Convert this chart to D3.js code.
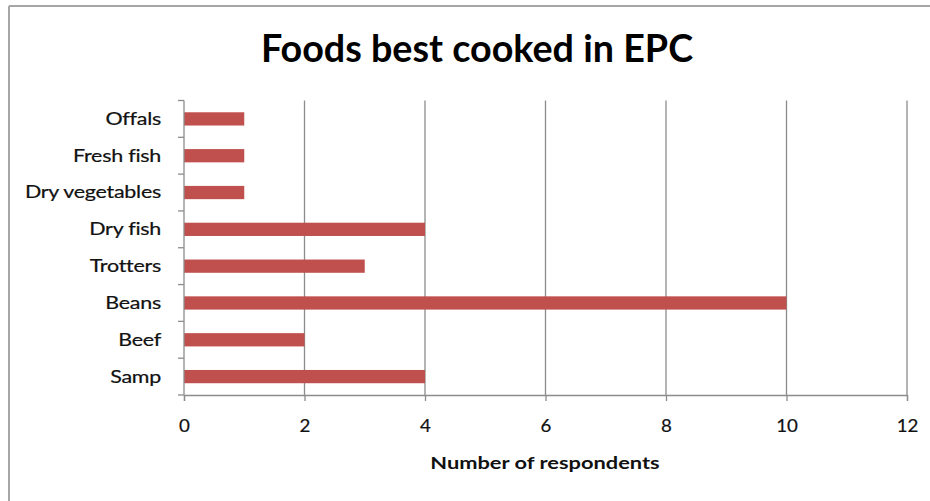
<!DOCTYPE html>
<html>
<head>
<meta charset="utf-8">
<script src="https://cdn.jsdelivr.net/npm/d3@7"></script>
<style>
  html, body { margin: 0; padding: 0; background: #fff; }
  svg { display: block; font-family: Lato, "Open Sans", sans-serif; }
</style>
</head>
<body>
<svg id="chart" width="930" height="501"></svg>
<script>
// Foods listed top-to-bottom as they appear on the category axis
const categories = ["Offals", "Fresh fish", "Dry vegetables", "Dry fish", "Trotters", "Beans", "Beef", "Samp"];
const respondents = [1, 1, 1, 4, 3, 10, 2, 4];
const xTicks = [0, 2, 4, 6, 8, 10, 12];

const titleText = "Foods best cooked in EPC";
const xTitle = "Number of respondents";

const svg = d3.select("#chart");
const W = 930, H = 501;
const plot = { left: 184, right: 907, top: 100.5, bottom: 395 };
const stretch = 1.3;          // horizontal widening of the small axis text
const axisColor = "#8c8c8c";

// Outer chart-area frame (left and top edges visible)
svg.append("line").attr("x1", 9).attr("x2", 9).attr("y1", 6).attr("y2", H)
  .attr("stroke", "#a6a6a6").attr("stroke-width", 2);
svg.append("line").attr("x1", 9).attr("x2", W).attr("y1", 6).attr("y2", 6)
  .attr("stroke", "#a6a6a6").attr("stroke-width", 2);

const x = d3.scaleLinear().domain([0, 12]).range([plot.left, plot.right]);
const y = d3.scaleBand().domain(categories).range([plot.top, plot.bottom]).paddingInner(0.64).paddingOuter(0.32);

// Vertical gridlines
svg.append("g").selectAll("line").data(xTicks.slice(1)).join("line")
  .attr("x1", d => x(d)).attr("x2", d => x(d))
  .attr("y1", plot.top).attr("y2", plot.bottom)
  .attr("stroke", axisColor).attr("stroke-width", 1.3);

// Bars
svg.append("g").selectAll("rect").data(categories).join("rect")
  .attr("x", x(0))
  .attr("y", d => y(d))
  .attr("width", (d, i) => x(respondents[i]) - x(0))
  .attr("height", y.bandwidth())
  .attr("fill", "#c0504d");

// X axis
const xAxis = d3.axisBottom(x).tickValues(xTicks).tickSize(6).tickPadding(0).tickFormat(d3.format("d"));
const gx = svg.append("g").attr("transform", `translate(0,${plot.bottom})`).call(xAxis);
gx.select(".domain").attr("stroke", axisColor).attr("stroke-width", 1.3);
gx.selectAll(".tick line").attr("stroke", axisColor).attr("stroke-width", 1.3);
gx.selectAll(".tick text")
  .attr("font-size", 17).attr("fill", "#111")
  .attr("font-family", "Lato, sans-serif")
  .attr("stroke", "#111").attr("stroke-width", 0.2)
  .attr("y", null).attr("dy", null)
  .attr("transform", "translate(0,37) scale(1.1,1)");

// Y axis: line plus ticks at band boundaries
const boundaries = d3.range(categories.length + 1).map(i => plot.top + i * (plot.bottom - plot.top) / categories.length);
svg.append("line").attr("x1", plot.left).attr("x2", plot.left)
  .attr("y1", plot.top).attr("y2", plot.bottom)
  .attr("stroke", axisColor).attr("stroke-width", 1.3);
svg.append("g").selectAll("line").data(boundaries).join("line")
  .attr("x1", plot.left - 6).attr("x2", plot.left)
  .attr("y1", d => d).attr("y2", d => d)
  .attr("stroke", axisColor).attr("stroke-width", 1.3);

// Category labels
svg.append("g").selectAll("text").data(categories).join("text")
  .attr("transform", d => `translate(161,${y(d) + y.bandwidth() / 2}) scale(${stretch},1)`)
  .attr("dy", "0.36em")
  .attr("text-anchor", "end")
  .attr("font-size", 16.5)
  .attr("fill", "#111")
  .attr("stroke", "#111").attr("stroke-width", 0.2)
  .attr("letter-spacing", "-0.2")
  .text(d => d);

// Chart title
svg.append("text").attr("x", 477).attr("y", 62)
  .attr("text-anchor", "middle").attr("font-size", 37.7).attr("font-weight", "bold")
  .attr("fill", "#000").text(titleText);

// X-axis title
svg.append("text")
  .attr("transform", `translate(545,469) scale(${stretch},1)`)
  .attr("text-anchor", "middle").attr("font-size", 16.8).attr("font-weight", "bold")
  .attr("fill", "#111").attr("letter-spacing", "0").text(xTitle);
</script>
</body>
</html>
